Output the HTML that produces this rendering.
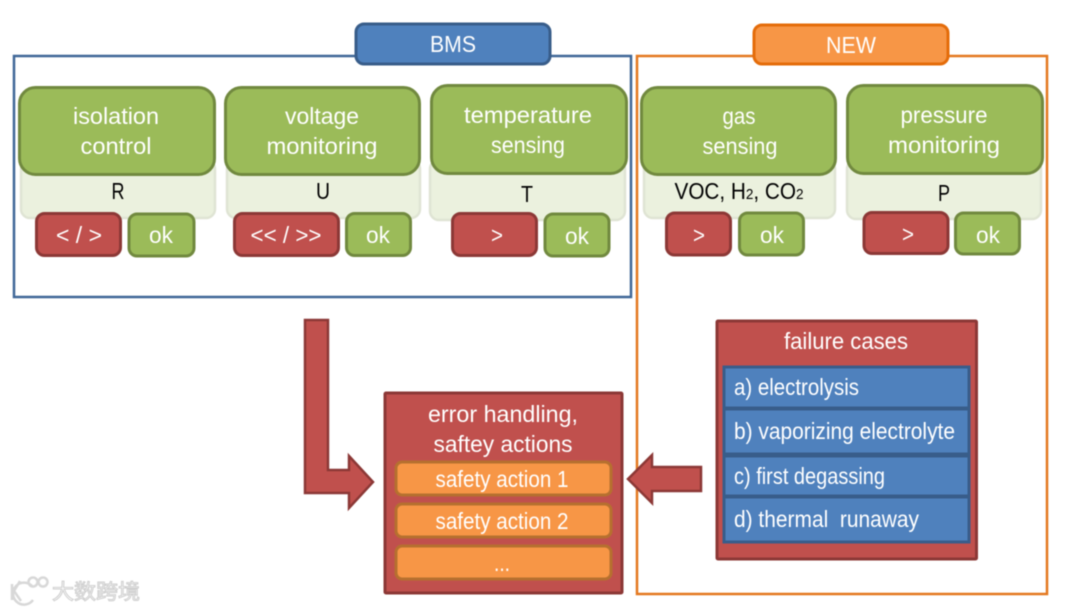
<!DOCTYPE html>
<html lang="en">
<head>
<meta charset="utf-8">
<title>BMS diagram</title>
<style>
html,body{margin:0;padding:0;background:#fff;width:1080px;height:611px;overflow:hidden}
svg{display:block;filter:blur(.4px)}
text{font-family:"Liberation Sans","Noto Sans CJK SC",sans-serif;fill:#fff;text-anchor:middle;font-size:23px}
.k{fill:#000}
.l{text-anchor:start}
.g{fill:#9bbb59;stroke:#71893f;stroke-width:3}
.p{fill:#ebf1de;stroke:#dfe4d4;stroke-width:2.5}
.r{fill:#c0504d;stroke:#8c3836;stroke-width:3}
.b{fill:#4f81bd;stroke:#385d8a;stroke-width:3}
.o{fill:#f79646;stroke:#b6702f;stroke-width:3}
.a{fill:#c0504d;stroke:#8c3836;stroke-width:2.5}
</style>
</head>
<body>
<svg width="1080" height="611" viewBox="0 0 1080 611" xmlns="http://www.w3.org/2000/svg">
<!-- frames -->
<rect x="14" y="56" width="617" height="241" fill="none" stroke="#3f6797" stroke-width="2.5"/>
<rect x="637" y="56" width="410" height="538" fill="none" stroke="#e4781f" stroke-width="2.5"/>
<rect class="b" x="356" y="24" width="194" height="40" rx="8"/>
<text x="453" y="52" textLength="46" lengthAdjust="spacingAndGlyphs">BMS</text>
<rect x="754" y="25" width="194" height="39" rx="8" fill="#f79646" stroke="#e46c0a" stroke-width="3"/>
<text x="851" y="53" textLength="50" lengthAdjust="spacingAndGlyphs">NEW</text>

<!-- pale backgrounds -->
<rect class="p" x="21" y="160" width="194" height="58" rx="9"/>
<rect class="p" x="227" y="160" width="193" height="58" rx="9"/>
<rect class="p" x="430" y="160" width="195" height="60" rx="9"/>
<rect class="p" x="644" y="160" width="191" height="58" rx="9"/>
<rect class="p" x="847" y="160" width="194" height="59" rx="9"/>

<!-- green headers -->
<rect class="g" x="19.500" y="87.500" width="195" height="87" rx="16"/>
<rect class="g" x="225.500" y="87.500" width="194" height="87" rx="16"/>
<rect class="g" x="431.500" y="85.500" width="195" height="88" rx="16"/>
<rect class="g" x="641.500" y="87.500" width="194" height="87" rx="16"/>
<rect class="g" x="847.500" y="85.500" width="195" height="88" rx="16"/>

<text x="116" y="124" textLength="86" lengthAdjust="spacingAndGlyphs">isolation</text>
<text x="116" y="154" textLength="71" lengthAdjust="spacingAndGlyphs">control</text>
<text x="322" y="124" textLength="74" lengthAdjust="spacingAndGlyphs">voltage</text>
<text x="322" y="154" textLength="111" lengthAdjust="spacingAndGlyphs">monitoring</text>
<text x="528" y="123" textLength="128" lengthAdjust="spacingAndGlyphs">temperature</text>
<text x="528" y="153" textLength="74" lengthAdjust="spacingAndGlyphs">sensing</text>
<text x="739" y="124" textLength="33" lengthAdjust="spacingAndGlyphs">gas</text>
<text x="740" y="154" textLength="75" lengthAdjust="spacingAndGlyphs">sensing</text>
<text x="944" y="123" textLength="87" lengthAdjust="spacingAndGlyphs">pressure</text>
<text x="944" y="153" textLength="112" lengthAdjust="spacingAndGlyphs">monitoring</text>

<!-- variables -->
<text class="k" x="118" y="199" textLength="13" lengthAdjust="spacingAndGlyphs">R</text>
<text class="k" x="323" y="199" textLength="14" lengthAdjust="spacingAndGlyphs">U</text>
<text class="k" x="527" y="202" textLength="12" lengthAdjust="spacingAndGlyphs">T</text>
<text class="k" x="739" y="199" textLength="129" lengthAdjust="spacingAndGlyphs">VOC, H<tspan font-size="15">2</tspan>, CO<tspan font-size="15">2</tspan></text>
<text class="k" x="944" y="201" textLength="12" lengthAdjust="spacingAndGlyphs">P</text>

<!-- red / ok buttons -->
<rect class="r" x="36.500" y="213.500" width="84" height="42" rx="8"/>
<text x="79" y="243" textLength="46" lengthAdjust="spacingAndGlyphs">&lt; / &gt;</text>
<rect class="g" x="129" y="214" width="65" height="42" rx="8"/>
<text x="161" y="243" textLength="24" lengthAdjust="spacingAndGlyphs">ok</text>

<rect class="r" x="234.500" y="213.500" width="104" height="42" rx="8"/>
<text x="286" y="243" textLength="71" lengthAdjust="spacingAndGlyphs">&lt;&lt; / &gt;&gt;</text>
<rect class="g" x="346.500" y="213.500" width="64" height="42" rx="8"/>
<text x="378" y="243" textLength="24" lengthAdjust="spacingAndGlyphs">ok</text>

<rect class="r" x="452.500" y="213.500" width="84" height="42" rx="8"/>
<text x="497" y="243" textLength="12" lengthAdjust="spacingAndGlyphs">&gt;</text>
<rect class="g" x="545" y="214" width="64" height="42" rx="8"/>
<text x="577" y="244" textLength="24" lengthAdjust="spacingAndGlyphs">ok</text>

<rect class="r" x="666.500" y="213" width="64" height="42" rx="8"/>
<text x="699" y="243" textLength="12" lengthAdjust="spacingAndGlyphs">&gt;</text>
<rect class="g" x="739.500" y="213" width="64" height="42" rx="8"/>
<text x="772" y="243" textLength="24" lengthAdjust="spacingAndGlyphs">ok</text>

<rect class="r" x="864" y="212.500" width="84" height="41" rx="8"/>
<text x="908" y="242" textLength="12" lengthAdjust="spacingAndGlyphs">&gt;</text>
<rect class="g" x="955.500" y="213" width="64" height="41" rx="8"/>
<text x="988" y="243" textLength="24" lengthAdjust="spacingAndGlyphs">ok</text>

<!-- arrows -->
<polygon class="a" points="305,320 328,320 328,470 349,470 349,456 373,482 349,508 349,493 305,493"/>
<polygon class="a" points="701,467 652,467 652,455 628,479 652,503 652,491 701,491"/>

<!-- error handling -->
<rect class="r" x="385" y="393" width="237" height="200" rx="1"/>
<text x="503" y="422" textLength="150" lengthAdjust="spacingAndGlyphs">error handling,</text>
<text x="503" y="452" textLength="139" lengthAdjust="spacingAndGlyphs">saftey actions</text>
<rect class="o" x="396" y="462" width="215" height="33" rx="6"/>
<text x="502" y="487" textLength="133" lengthAdjust="spacingAndGlyphs">safety action 1</text>
<rect class="o" x="396" y="504" width="215" height="33" rx="6"/>
<text x="502" y="529" textLength="133" lengthAdjust="spacingAndGlyphs">safety action 2</text>
<rect class="o" x="396" y="546" width="215" height="33" rx="6"/>
<text x="502" y="571" textLength="16" lengthAdjust="spacingAndGlyphs">...</text>

<!-- failure cases -->
<rect class="r" x="717" y="321" width="259.500" height="238" rx="1"/>
<text x="846" y="349" textLength="124" lengthAdjust="spacingAndGlyphs">failure cases</text>
<rect class="b" x="724" y="367" width="245" height="41"/>
<rect class="b" x="724" y="409" width="245" height="45"/>
<rect class="b" x="724" y="456" width="245" height="40"/>
<rect class="b" x="724" y="497" width="245" height="45"/>
<text class="l" x="734" y="395" textLength="125" lengthAdjust="spacingAndGlyphs">a) electrolysis</text>
<text class="l" x="734" y="439" textLength="221" lengthAdjust="spacingAndGlyphs">b) vaporizing electrolyte</text>
<text class="l" x="734" y="484" textLength="151" lengthAdjust="spacingAndGlyphs">c) first degassing</text>
<text class="l" x="734" y="527" textLength="185" lengthAdjust="spacingAndGlyphs" xml:space="preserve">d) thermal  runaway</text>

<!-- watermark -->
<g fill="none" stroke="#d8d8d8" stroke-width="2.500">
<path d="M12 584 L12 600 M20 581 L14 591 L21 601 M32 586 A11 11 0 1 0 33 600"/>
<circle cx="33" cy="582" r="4.500"/>
<circle cx="43" cy="582" r="4.500"/>
</g>
<text x="96" y="599" textLength="88" lengthAdjust="spacingAndGlyphs" style="font-size:21px;fill:#fff;stroke:#cfcfcf;stroke-width:1">大数跨境</text>
</svg>
</body>
</html>
